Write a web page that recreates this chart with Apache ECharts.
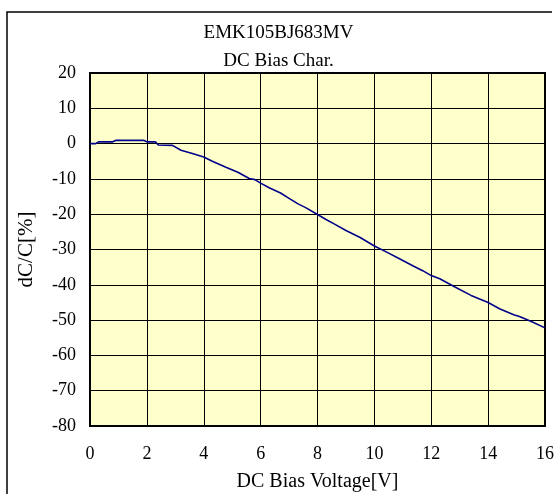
<!DOCTYPE html>
<html>
<head>
<meta charset="utf-8">
<script src="https://cdn.jsdelivr.net/npm/echarts@6/dist/echarts.min.js"></script>
<style>
  html, body { margin: 0; padding: 0; background: #fff; }
  #chart { width: 557px; height: 494px; }
</style>
</head>
<body>
<div id="chart"></div>
<script>
// DC bias voltage [V] and capacitance change [%]
const voltage = [0, 0.2, 0.3, 0.8, 0.9, 1.9, 2.0, 2.3, 2.4, 2.9, 3.2, 3.6, 4.0, 4.3, 4.8, 5.2, 5.6, 5.8, 6.0, 6.3,
  6.7, 7.0, 7.3, 7.6, 8.0, 8.3, 8.6, 9.0, 9.5, 10.0, 10.4, 10.9, 11.4, 11.7, 12.0, 12.3, 12.8, 13.4, 14.0, 14.4,
  14.9, 15.1, 15.5, 16.0];
const dcValues = [0, 0, 0.5, 0.5, 0.9, 0.9, 0.5, 0.5, -0.4, -0.5, -1.9, -2.8, -3.8, -5.0, -6.8, -8.1, -9.9, -10.2, -11.2, -12.5,
  -14.0, -15.5, -17.0, -18.2, -20.1, -21.5, -22.8, -24.6, -26.6, -29.0, -30.6, -32.7, -34.8, -36.0, -37.4, -38.3, -40.5, -43.0, -45.0, -46.8,
  -48.5, -49.0, -50.3, -52.2];
const titleLines = ['EMK105BJ683MV', 'DC Bias Char.'];
const xName = 'DC Bias Voltage[V]';
const yName = 'dC/C[%]';

const serif = '"Liberation Serif", "Times New Roman", serif';

const chart = echarts.init(document.getElementById('chart'));

const getChartOptions = () => ({
  animation: false,
  textStyle: { fontFamily: serif },
  title: {
    text: titleLines.join('\n'),
    left: 'center',
    top: 14,
    textStyle: {
      fontFamily: serif,
      fontWeight: 'normal',
      fontSize: 19,
      color: '#000',
      lineHeight: 28,
    },
  },
  graphic: [
    // outer frame (top and left edges only are visible)
    {
      type: 'polyline',
      shape: { points: [[7, 494], [7, 12], [552, 12]] },
      style: { stroke: '#000', lineWidth: 1.5, fill: null },
    },
  ],
  grid: {
    left: 90,
    right: 12,
    top: 73,
    bottom: 68,
    outerBoundsMode: 'none',
    show: true,
    backgroundColor: '#ffffcc',
    borderColor: '#000',
    borderWidth: 2,
  },
  xAxis: {
    type: 'value',
    min: 0,
    max: 16,
    interval: 2,
    name: xName,
    nameLocation: 'middle',
    nameGap: 46,
    nameTextStyle: { fontFamily: serif, fontSize: 20, color: '#000' },
    axisLine: { show: false },
    axisTick: { show: false },
    axisLabel: { fontFamily: serif, fontSize: 18, color: '#000', margin: 19 },
    splitLine: { show: true, lineStyle: { color: '#000', width: 1 } },
  },
  yAxis: {
    type: 'value',
    min: -80,
    max: 20,
    interval: 10,
    name: yName,
    nameLocation: 'middle',
    nameGap: 53,
    nameTextStyle: { fontFamily: serif, fontSize: 21, color: '#000' },
    axisLine: { show: false },
    axisTick: { show: false },
    axisLabel: { fontFamily: serif, fontSize: 18, color: '#000', margin: 14 },
    splitLine: { show: true, lineStyle: { color: '#000', width: 1 } },
  },
  series: [
    {
      type: 'line',
      data: voltage.map((v, i) => [v, dcValues[i]]),
      symbol: 'none',
      smooth: false,
      lineStyle: { color: '#00008b', width: 1.6 },
    },
  ],
});

chart.setOption(getChartOptions());
</script>
</body>
</html>
